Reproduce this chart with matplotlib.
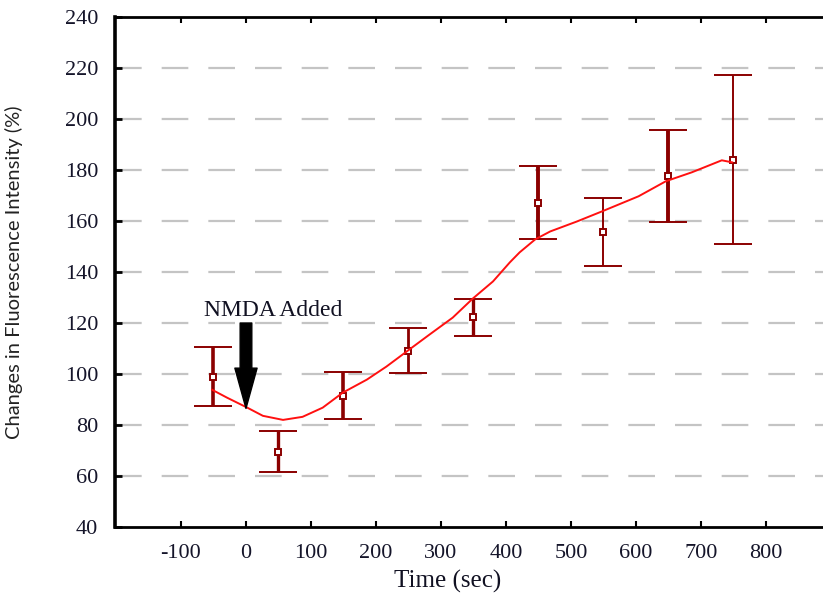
import matplotlib.pyplot as plt
import numpy as np

plt.rcParams['axes.unicode_minus'] = False

# mean +/- error at each time point (sec, % change)
time_pts = [-50, 50, 150, 250, 350, 450, 550, 650, 750]
mean_vals = [99.0, 69.5, 91.5, 109.2, 122.3, 167.2, 155.7, 177.7, 184.0]
err_vals = [11.5, 8.0, 9.3, 8.7, 7.3, 14.4, 13.2, 17.9, 33.2]

# fitted red curve, read along its path
curve_x = [-52, -29, 2, 26, 57, 87, 118, 149, 186, 216, 255, 282, 318, 349,
           380, 406, 421, 445, 468, 509, 548, 604, 646, 686, 732, 748]
curve_y = [93.8, 90.7, 86.8, 83.6, 82.0, 83.2, 86.8, 92.7, 97.8, 102.9, 110.3,
           115.4, 122.1, 129.6, 136.3, 143.8, 147.7, 152.8, 155.9, 159.8, 163.8,
           169.7, 175.6, 179.1, 183.8, 183.0]

x_ticks = [-100, 0, 100, 200, 300, 400, 500, 600, 700, 800]
y_ticks = [40, 60, 80, 100, 120, 140, 160, 180, 200, 220, 240]

bar_widths = [2.6, 2.4, 2.6, 2.0, 2.4, 2.8, 1.4, 2.8, 1.4]

fig = plt.figure(figsize=(8.23, 5.99), dpi=100)
ax = fig.add_axes([115 / 823, 72 / 599, 708 / 823, 510 / 599])

dark = '#8b0000'
for t, m, e, w in zip(time_pts, mean_vals, err_vals, bar_widths):
    ax.errorbar(t, m, yerr=e, fmt='s', ms=5, mfc='white', mec=dark, mew=1.4,
                color=dark, ecolor=dark, elinewidth=w, capsize=14, capthick=2.4,
                zorder=3)

ax.plot(curve_x, curve_y, color='#ff1010', lw=1.4, zorder=4)

# NMDA arrow + label
ax.annotate('', xy=(0, 86.5), xytext=(0, 120),
            arrowprops=dict(arrowstyle='simple,head_width=0.8,head_length=1.45,tail_width=0.42',
                            color='black', shrinkA=0, shrinkB=0, mutation_scale=20),
            zorder=5)
ax.text(42, 125, 'NMDA Added', family='Liberation Serif', fontsize=17,
        color='#111122', ha='center', va='center')

ax.set_xlim(-201.5, 887.7)
ax.set_ylim(40, 240)
ax.set_xticks(x_ticks)
ax.set_yticks(y_ticks)
ax.tick_params(axis='x', direction='in', top=True, length=4, width=1.5, pad=12,
               labelsize=16, labelcolor='#15152a')
ax.tick_params(axis='y', direction='in', length=5, width=2, pad=12,
               labelsize=16, labelcolor='#15152a')
for lab in ax.get_xticklabels() + ax.get_yticklabels():
    lab.set_family('Liberation Serif')

for y in y_ticks[1:-1]:
    ax.axhline(y, color='#c4c4c4', lw=1.6, ls=(0, (12, 9)), zorder=1)

for s in ['left', 'top', 'bottom']:
    ax.spines[s].set_color('black')
ax.spines['left'].set_linewidth(2.6)
ax.spines['top'].set_linewidth(2)
ax.spines['bottom'].set_linewidth(2)
ax.spines['right'].set_visible(False)

ax.set_xlabel('Time (sec)', family='Liberation Serif', fontsize=18, color='#111122')
ax.xaxis.set_label_coords(0.47, -0.085)
ax.set_ylabel('Changes in Fluorescence Intensity (%)', family='Lato', fontsize=14.5,
              color='#222222')
ax.yaxis.set_label_coords(-0.13, 0.5)

fig.savefig('out.png', dpi=100)
